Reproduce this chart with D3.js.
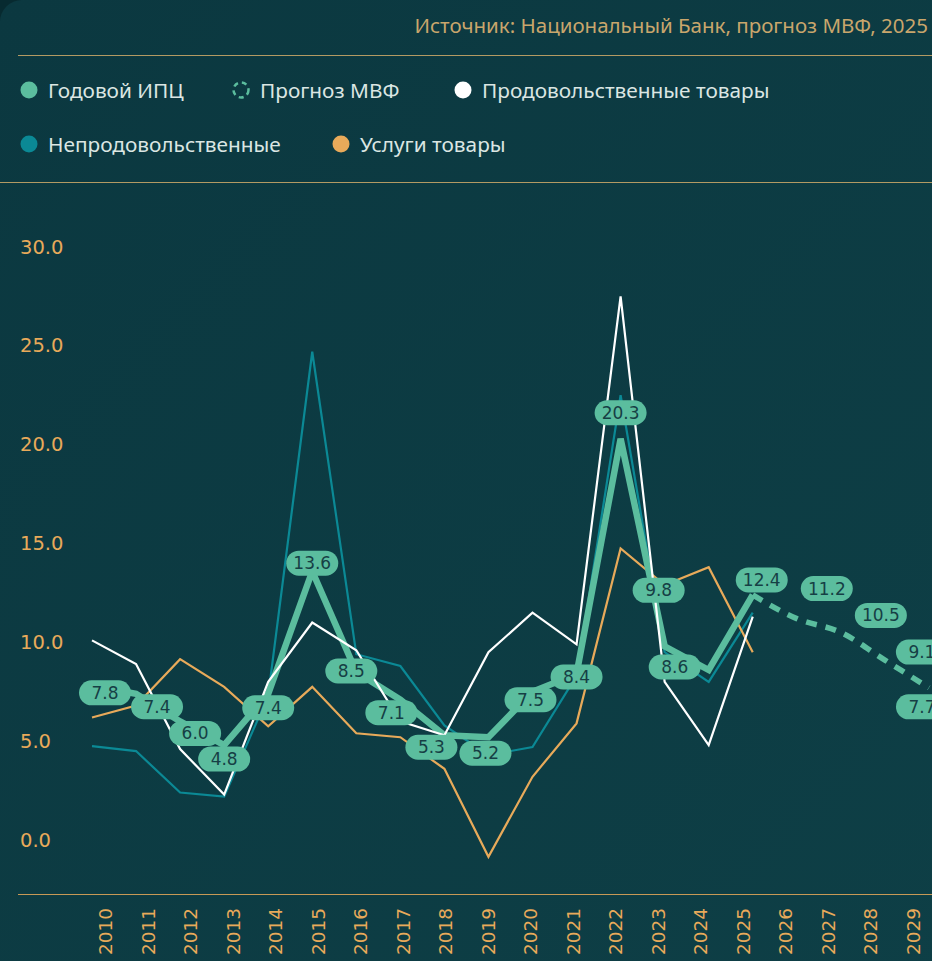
<!DOCTYPE html>
<html>
<head>
<meta charset="utf-8">
<script src="https://cdn.jsdelivr.net/npm/d3@7"></script>
<style>
  html, body { margin: 0; padding: 0; background: #072a30; overflow: hidden; }
  #chart { width: 932px; height: 961px; }
</style>
</head>
<body>
<div id="chart"></div>
<script>
// categories
const years = d3.range(2010, 2030).map(String);
const histYears = d3.range(2010, 2026).map(String);
const forecastYears = d3.range(2025, 2030).map(String);
const yTicks = [0, 5, 10, 15, 20, 25, 30];

// series values, %
const cpi = [7.8, 7.4, 6.0, 4.8, 7.4, 13.6, 8.5, 7.1, 5.3, 5.2, 7.5, 8.4, 20.3, 9.8, 8.6, 12.4];
const forecast = [12.4, 11.2, 10.5, 9.1, 7.7];
const food = [10.1, 8.9, 4.6, 2.3, 8.0, 11.0, 9.6, 6.0, 5.3, 9.5, 11.5, 9.9, 27.5, 8.0, 4.8, 11.3];
const nonFood = [4.75, 4.5, 2.4, 2.2, 7.3, 24.7, 9.4, 8.8, 5.8, 4.3, 4.7, 8.3, 22.5, 9.5, 8.0, 11.5];
const services = [6.2, 6.8, 9.15, 7.75, 5.75, 7.75, 5.4, 5.2, 3.6, -0.85, 3.2, 5.9, 14.75, 12.9, 13.8, 9.5];

// label nudges (px) so the pills don't sit on each other
const cpiShift = [[13,7],[21,13],[15,12],[0,14],[0,14],[0,-8],[-5,-1],[-9,13],[-13,12],[-3,16],[-2,8],[0,3],[0,-26],[-6,-56],[-34,-3],[9,-15]];
const fcShift = [null,[30,-30],[40,-17],[37,-8],[-7,19]];

const colors = {cpi: "#5bbd9e", food: "#ffffff", nonFood: "#0b8995", services: "#e8aa5a", gold: "#b39a63"};
const W = 932, H = 961;

const svg = d3.select("#chart").append("svg")
    .attr("width", W)
    .attr("height", H);

const defs = svg.append("defs");
const grad = defs.append("linearGradient").attr("id", "bg").attr("x1", 0).attr("y1", 0).attr("x2", 1).attr("y2", 1);
grad.append("stop").attr("offset", "0%").attr("stop-color", "#0b3840");
grad.append("stop").attr("offset", "100%").attr("stop-color", "#0e3f46");

svg.append("rect")
    .attr("width", W + 40).attr("height", H + 40)
    .attr("rx", 22)
    .attr("fill", "url(#bg)");

// source line
svg.append("text")
    .attr("x", 928).attr("y", 25)
    .attr("text-anchor", "end")
    .attr("dominant-baseline", "central")
    .attr("fill", "#c9a66c")
    .style("font-family", "'Noto Sans', sans-serif")
    .style("font-size", "20.5px")
    .text("Источник: Национальный Банк, прогноз МВФ, 2025");

svg.append("line").attr("x1", 18).attr("x2", W).attr("y1", 55.5).attr("y2", 55.5)
    .attr("stroke", colors.gold).attr("stroke-width", 1.2);
svg.append("line").attr("x1", 0).attr("x2", W).attr("y1", 182.5).attr("y2", 182.5)
    .attr("stroke", colors.gold).attr("stroke-width", 1.2);

// legend
const legendItems = [
    {name: "Годовой ИПЦ", color: colors.cpi, x: 29, y: 90},
    {name: "Прогноз МВФ", color: colors.cpi, x: 241, y: 90, dashed: true},
    {name: "Продовольственные товары", color: colors.food, x: 463, y: 90},
    {name: "Непродовольственные", color: colors.nonFood, x: 29, y: 144},
    {name: "Услуги товары", color: colors.services, x: 341, y: 144}
];
const lg = svg.append("g").selectAll("g").data(legendItems).enter().append("g")
    .attr("transform", d => "translate(" + d.x + "," + d.y + ")");
lg.append("circle")
    .attr("r", d => d.dashed ? 7.5 : 8.5)
    .attr("fill", d => d.dashed ? "none" : d.color)
    .attr("stroke", d => d.dashed ? d.color : "none")
    .attr("stroke-width", 2.5)
    .attr("stroke-dasharray", d => d.dashed ? "5 4" : null);
lg.append("text")
    .attr("x", 19)
    .attr("dominant-baseline", "central")
    .attr("fill", "#dbe6e3")
    .style("font-family", "'Noto Sans', sans-serif")
    .style("font-size", "20.8px")
    .text(d => d.name);

// scales
const x = d3.scalePoint().domain(years).range([92, 92 + 44.05 * 19]);
const xLab = d3.scalePoint().domain(years).range([105, 105 + 42.5 * 19]);
const y = d3.scaleLinear().domain([0, 30]).range([840, 247]);

// y tick labels
svg.append("g").selectAll("text").data(yTicks).enter().append("text")
    .attr("x", 20)
    .attr("y", d => y(d))
    .attr("dominant-baseline", "central")
    .attr("fill", colors.services)
    .style("font-family", "'DejaVu Sans', sans-serif")
    .style("font-size", "19.5px")
    .text(d => d.toFixed(1));

// bottom axis
const xAxis = d3.axisBottom(xLab).tickSize(0).tickPadding(0);
const gx = svg.append("g")
    .attr("transform", "translate(0,894)")
    .call(xAxis);
gx.select(".domain").remove();
svg.append("line").attr("x1", 18).attr("x2", W).attr("y1", 894.5).attr("y2", 894.5)
    .attr("stroke", colors.services).attr("stroke-width", 1.2).attr("opacity", 0.85);
gx.selectAll("text")
    .attr("transform", "translate(0,14) rotate(-90)")
    .attr("x", 0).attr("y", 0).attr("dy", null)
    .attr("text-anchor", "end")
    .attr("dominant-baseline", "central")
    .attr("fill", colors.services)
    .style("font-family", "'DejaVu Sans', sans-serif")
    .style("font-size", "18.5px");

const line = d3.line()
    .x(d => x(d.year))
    .y(d => y(d.value));

function toPoints(ys, vals) {
    return ys.map((yr, i) => ({year: yr, value: vals[i]}));
}

const plot = svg.append("g");

plot.append("path").datum(toPoints(histYears, nonFood))
    .attr("fill", "none").attr("stroke", colors.nonFood).attr("stroke-width", 2.2)
    .attr("d", line);
plot.append("path").datum(toPoints(histYears, services))
    .attr("fill", "none").attr("stroke", colors.services).attr("stroke-width", 2.2)
    .attr("d", line);
plot.append("path").datum(toPoints(histYears, cpi))
    .attr("fill", "none").attr("stroke", colors.cpi).attr("stroke-width", 6.5)
    .attr("d", line);
plot.append("path").datum(toPoints(histYears, food))
    .attr("fill", "none").attr("stroke", colors.food).attr("stroke-width", 2.2)
    .attr("d", line);
plot.append("path").datum(toPoints(forecastYears, forecast))
    .attr("fill", "none").attr("stroke", colors.cpi).attr("stroke-width", 5.5)
    .attr("stroke-dasharray", "11 9")
    .attr("d", line.curve(d3.curveMonotoneX));

// value pills
const labels = toPoints(histYears, cpi).map((d, i) => ({...d, shift: cpiShift[i]}))
    .concat(toPoints(forecastYears, forecast).map((d, i) => ({...d, shift: fcShift[i]})).filter(d => d.shift));

const pill = plot.append("g").selectAll("g").data(labels).enter().append("g")
    .attr("transform", d => "translate(" + (x(d.year) + d.shift[0]) + "," + (y(d.value) + d.shift[1]) + ")");
pill.append("rect")
    .attr("x", -26).attr("y", -12.5)
    .attr("width", 52).attr("height", 25)
    .attr("rx", 12.5)
    .attr("fill", colors.cpi);
pill.append("text")
    .attr("text-anchor", "middle")
    .attr("dominant-baseline", "central")
    .attr("fill", "#163f45")
    .style("font-family", "'DejaVu Sans', sans-serif")
    .style("font-size", "17px")
    .text(d => d.value.toFixed(1));
</script>
</body>
</html>
